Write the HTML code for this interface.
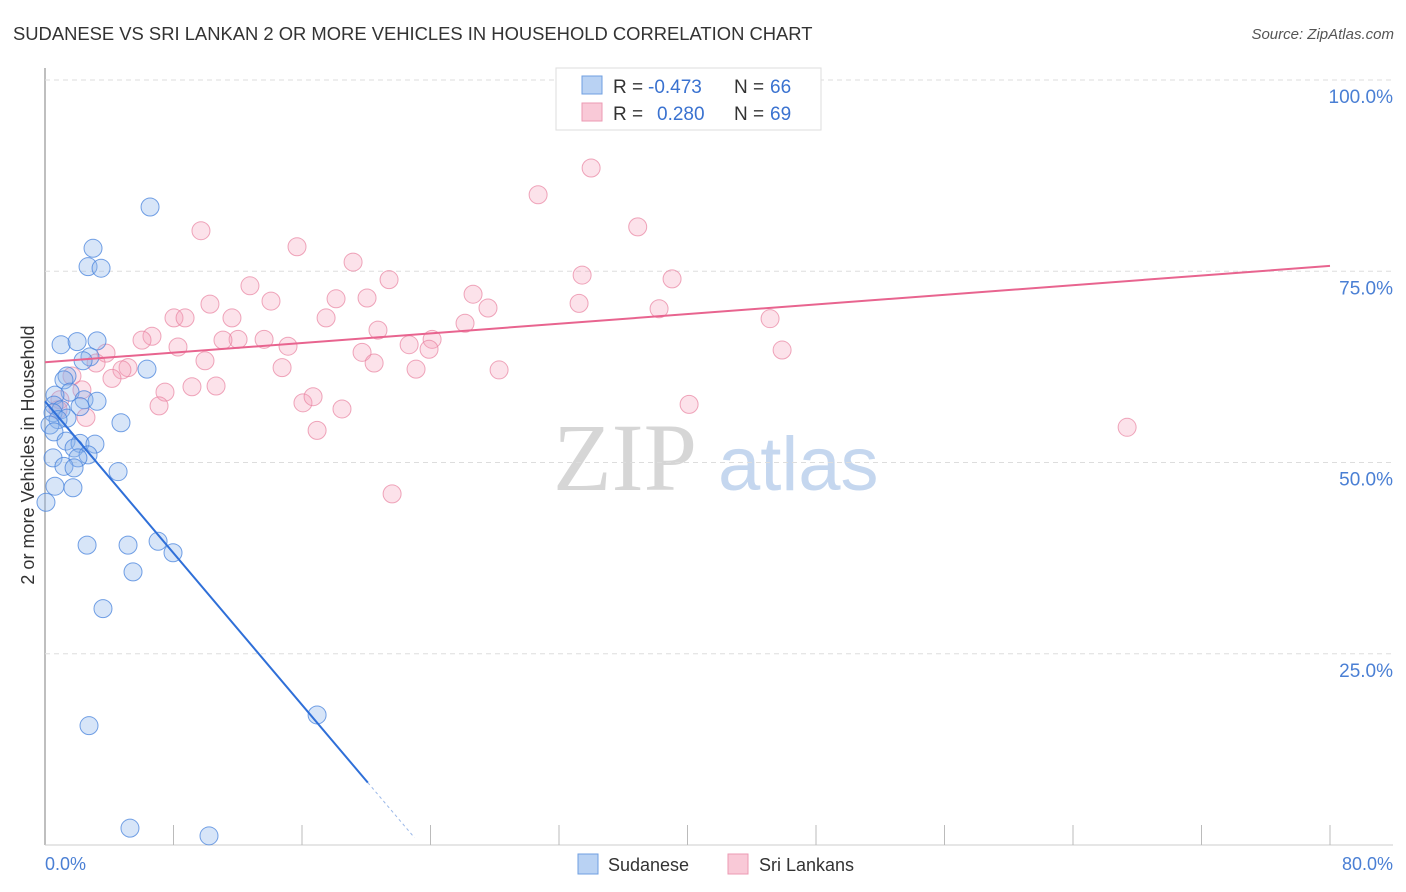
<!DOCTYPE html>
<html><head><meta charset="utf-8"><style>
body{margin:0;background:#fff;font-family:"Liberation Sans",sans-serif}
svg{display:block}
</style></head><body>
<svg id="c" width="1406" height="892" xmlns="http://www.w3.org/2000/svg">
<text x="13" y="40" font-size="18.4" fill="#333">SUDANESE VS SRI LANKAN 2 OR MORE VEHICLES IN HOUSEHOLD CORRELATION CHART</text>
<text x="1394" y="39" font-size="15" fill="#555" font-style="italic" text-anchor="end">Source: ZipAtlas.com</text>
<g>
<text x="553" y="490" font-size="96" font-family="Liberation Serif,serif" fill="#d6d6d6">ZIP</text>
<text x="718" y="490" font-size="76" fill="#c5d7ef">atlas</text>
</g>
<g id="grid"></g>
<g id="marks"></g>
<text transform="translate(34,455) rotate(-90)" font-size="18" fill="#333" text-anchor="middle">2 or more Vehicles in Household</text>
<text x="45" y="870" font-size="18" fill="#4a7fd4">0.0%</text>
<text x="1393" y="870" font-size="18" fill="#4a7fd4" text-anchor="end">80.0%</text>
<g>
<rect x="556" y="68" width="265" height="62" fill="#fff" stroke="#ddd"/>
<rect x="582" y="76" width="20" height="18" fill="#b9d2f3" stroke="#6f9fe0"/>
<rect x="582" y="103" width="20" height="18" fill="#f9c9d7" stroke="#ec9ab3"/>
<text x="613" y="93" font-size="19" fill="#333">R =</text>
<text x="648" y="93" font-size="19" fill="#3a72d0">-0.473</text>
<text x="734" y="93" font-size="19" fill="#333">N =</text>
<text x="770" y="93" font-size="19" fill="#3a72d0">66</text>
<text x="613" y="120" font-size="19" fill="#333">R =</text>
<text x="657" y="120" font-size="19" fill="#3a72d0">0.280</text>
<text x="734" y="120" font-size="19" fill="#333">N =</text>
<text x="770" y="120" font-size="19" fill="#3a72d0">69</text>
</g>
<g>
<rect x="578" y="854" width="20" height="20" fill="#b9d2f3" stroke="#6f9fe0"/>
<text x="608" y="871" font-size="18" fill="#333">Sudanese</text>
<rect x="728" y="854" width="20" height="20" fill="#f9c9d7" stroke="#ec9ab3"/>
<text x="759" y="871" font-size="18" fill="#333">Sri Lankans</text>
</g>
</svg>
<script>
const yTicks=[25,50,75,100];
const xTicks=[8,16,24,32,40,48,56,64,72,80];
const blueX=[6.54,2.99,2.68,3.49,1.0,2.0,3.24,2.8,2.37,6.35,1.37,1.18,1.56,0.62,2.43,3.24,0.56,1.0,2.18,0.5,1.37,0.81,4.73,0.31,0.56,1.31,2.18,3.11,1.81,2.68,2.05,0.5,1.18,1.81,4.55,0.62,1.74,0.06,2.62,5.17,7.04,7.97,5.48,3.61,2.74,16.94,5.29,10.21];
const blueY=[83.4,78.0,75.6,75.4,65.4,65.8,65.9,63.8,63.3,62.2,61.3,60.8,59.2,58.8,58.2,58.0,57.5,56.9,57.3,56.5,55.8,55.6,55.2,54.9,54.0,52.8,52.5,52.4,51.9,51.0,50.6,50.6,49.5,49.3,48.8,46.9,46.7,44.8,39.2,39.2,39.7,38.2,35.7,30.9,15.6,17.0,2.2,1.2];
const pinkX=[34.0,30.7,36.9,9.71,15.69,19.18,12.76,21.42,33.44,39.04,10.27,14.07,18.12,20.05,26.65,27.58,33.25,38.23,8.03,8.72,11.64,17.5,20.73,26.15,45.14,6.66,6.04,12.02,11.08,13.64,8.28,15.13,22.67,24.1,23.91,19.74,45.89,3.8,9.96,3.18,5.17,4.79,4.17,14.76,20.49,23.1,28.27,1.68,7.47,9.15,10.65,2.3,16.06,16.69,7.1,40.1,18.49,16.94,2.55,67.37,21.61,0.93,0.81];
const pinkY=[88.5,85.0,80.8,80.3,78.2,76.2,73.1,73.9,74.5,74.0,70.7,71.1,71.4,71.5,72.0,70.2,70.8,70.1,68.9,68.9,68.9,68.9,67.3,68.2,68.8,66.5,66.0,66.1,66.0,66.1,65.1,65.2,65.4,66.1,64.8,64.4,64.7,64.3,63.3,63.0,62.4,62.1,61.0,62.4,63.0,62.2,62.1,61.3,59.2,59.9,60.0,59.5,57.8,58.6,57.4,57.6,57.0,54.2,55.9,54.6,45.9,58.2,56.9];
const blueTrend=[58.0,-2.48];
const pinkTrend=[63.1,0.1575];
const X0=45,X1=1330,Y0=845,Y1=80;
const sx=v=>X0+(X1-X0)*v/80, sy=v=>Y0-(Y0-Y1)*v/100;
const NS="http://www.w3.org/2000/svg";
function mk(t,a,p){const e=document.createElementNS(NS,t);for(const k in a)e.setAttribute(k,a[k]);p.appendChild(e);return e;}
const g=document.getElementById('grid'),m=document.getElementById('marks');
let e;
e=mk('line',{x1:X0,y1:68,x2:X0,y2:Y0,stroke:'#aaa','stroke-width':1.5},g);


e=mk('line',{x1:X0,y1:Y0,x2:1393,y2:Y0,stroke:'#ccc'},g);


yTicks.forEach(v=>{
 e=mk('line',{x1:X0,y1:sy(v),x2:1393,y2:sy(v),stroke:'#ddd','stroke-dasharray':'5,4'},g);
 
 
 e=mk('text',{x:1393,y:sy(v)+23,'font-size':19,fill:'#4a7fd4','text-anchor':'end'},g);
 e.textContent=v.toFixed(1)+'%';
 
 
});
xTicks.forEach(v=>{
 e=mk('line',{x1:sx(v),y1:Y0-20,x2:sx(v),y2:Y0,stroke:'#bbb'},g);
 
 
});
pinkX.forEach((x,i)=>{
 e=mk('circle',{cx:sx(x),cy:sy(pinkY[i]),r:9,fill:'rgba(244,160,185,0.3)',stroke:'rgba(232,130,160,0.7)','stroke-width':1},m);
 
 
});
blueX.forEach((x,i)=>{
 e=mk('circle',{cx:sx(x),cy:sy(blueY[i]),r:9,fill:'rgba(140,180,235,0.35)',stroke:'rgba(70,130,220,0.75)','stroke-width':1},m);
 
 
});
e=mk('line',{x1:sx(0),y1:sy(pinkTrend[0]),x2:sx(80),y2:sy(pinkTrend[0]+80*pinkTrend[1]),stroke:'#e8648f','stroke-width':2},m);


const bEnd=20.1,bDash=23.0;
e=mk('line',{x1:sx(0),y1:sy(blueTrend[0]),x2:sx(bEnd),y2:sy(blueTrend[0]+bEnd*blueTrend[1]),stroke:'#2f6fd8','stroke-width':2},m);


e=mk('line',{x1:sx(bEnd),y1:sy(blueTrend[0]+bEnd*blueTrend[1]),x2:sx(bDash),y2:sy(blueTrend[0]+bDash*blueTrend[1]),stroke:'#9bb8e8','stroke-width':1,'stroke-dasharray':'3,3'},m);


</script>
</body></html>
